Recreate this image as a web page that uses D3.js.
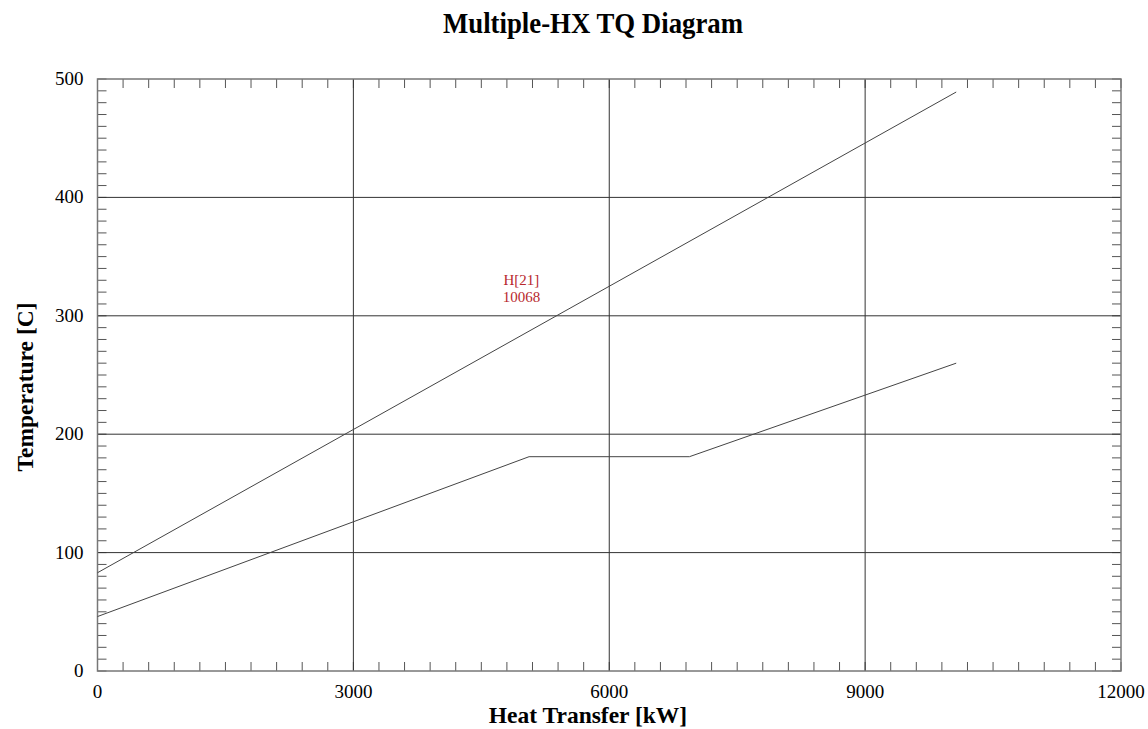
<!DOCTYPE html>
<html>
<head>
<meta charset="utf-8">
<script src="https://cdn.jsdelivr.net/npm/d3@7"></script>
<style>
  body { margin: 0; background: #fff; }
  svg { display: block; font-family: "Liberation Serif", "DejaVu Serif", serif; }
</style>
</head>
<body>
<div id="chart"></div>
<script>
// hot stream H[21] and cold stream, Q [kW] vs T [C]
var hotQ = [0, 10068];
var hotT = [83, 489];
var coldQ = [0, 5060, 6940, 10068];
var coldT = [46, 181, 181, 260];

var xTicks = [0, 3000, 6000, 9000, 12000];
var yTicks = [0, 100, 200, 300, 400, 500];
var streamLabel = ["H[21]", "10068"];

var width = 1148, height = 729;
var margin = { top: 79, right: 27, bottom: 58, left: 97.5 };

var svg = d3.select("#chart").append("svg")
  .attr("width", width)
  .attr("height", height);

var x = d3.scaleLinear().domain([0, 12000]).range([margin.left, width - margin.right]);
var y = d3.scaleLinear().domain([0, 500]).range([height - margin.bottom, margin.top]);

// minor ticks, all four sides, pointing in
var minorX = d3.range(0, 12001, 300);
var minorY = d3.range(0, 501, 10);
var tickLen = 9;

var g = svg.append("g");

g.selectAll(".mxb").data(minorX).enter().append("line")
  .attr("x1", d => x(d)).attr("x2", d => x(d))
  .attr("y1", y(0)).attr("y2", y(0) - tickLen)
  .attr("stroke", "#555").attr("stroke-width", 1);
g.selectAll(".mxt").data(minorX).enter().append("line")
  .attr("x1", d => x(d)).attr("x2", d => x(d))
  .attr("y1", y(500)).attr("y2", y(500) + tickLen)
  .attr("stroke", "#555").attr("stroke-width", 1);
g.selectAll(".myl").data(minorY).enter().append("line")
  .attr("x1", x(0)).attr("x2", x(0) + tickLen)
  .attr("y1", d => y(d)).attr("y2", d => y(d))
  .attr("stroke", "#555").attr("stroke-width", 1);
g.selectAll(".myr").data(minorY).enter().append("line")
  .attr("x1", x(12000)).attr("x2", x(12000) - tickLen)
  .attr("y1", d => y(d)).attr("y2", d => y(d))
  .attr("stroke", "#555").attr("stroke-width", 1);

// major grid
g.selectAll(".gx").data(xTicks.slice(1, -1)).enter().append("line")
  .attr("x1", d => x(d)).attr("x2", d => x(d))
  .attr("y1", y(0)).attr("y2", y(500))
  .attr("stroke", "#333").attr("stroke-width", 1);
g.selectAll(".gy").data(yTicks.slice(1, -1)).enter().append("line")
  .attr("x1", x(0)).attr("x2", x(12000))
  .attr("y1", d => y(d)).attr("y2", d => y(d))
  .attr("stroke", "#333").attr("stroke-width", 1);

// frame
svg.append("rect")
  .attr("x", x(0)).attr("y", y(500))
  .attr("width", x(12000) - x(0)).attr("height", y(0) - y(500))
  .attr("fill", "none").attr("stroke", "#777").attr("stroke-width", 1.5);

// tick labels
svg.selectAll(".xl").data(xTicks).enter().append("text")
  .attr("x", d => x(d)).attr("y", y(0) + 27)
  .attr("text-anchor", "middle")
  .attr("font-size", "19px")
  .text(d => d);
svg.selectAll(".yl").data(yTicks).enter().append("text")
  .attr("x", x(0) - 14).attr("y", d => y(d) + 6)
  .attr("text-anchor", "end")
  .attr("font-size", "19px")
  .text(d => d);

// streams
var line = d3.line().x(d => x(d[0])).y(d => y(d[1]));
svg.append("path")
  .datum(hotQ.map((q, i) => [q, hotT[i]]))
  .attr("d", line).attr("fill", "none")
  .attr("stroke", "#444").attr("stroke-width", 1);
svg.append("path")
  .datum(coldQ.map((q, i) => [q, coldT[i]]))
  .attr("d", line).attr("fill", "none")
  .attr("stroke", "#444").attr("stroke-width", 1);

// stream label
svg.append("text")
  .attr("x", x(4970)).attr("y", y(326))
  .attr("text-anchor", "middle")
  .attr("fill", "#b8282d")
  .attr("font-size", "15px")
  .selectAll("tspan").data(streamLabel).enter().append("tspan")
  .attr("x", x(4970)).attr("dy", (d, i) => i ? 17 : 0)
  .text(d => d);

// titles
svg.append("text")
  .attr("x", 593).attr("y", 33)
  .attr("text-anchor", "middle")
  .attr("font-size", "29px").attr("font-weight", "bold")
  .attr("textLength", 300).attr("lengthAdjust", "spacingAndGlyphs")
  .text("Multiple-HX TQ Diagram");
svg.append("text")
  .attr("x", 588).attr("y", 723)
  .attr("text-anchor", "middle")
  .attr("font-size", "23.5px").attr("font-weight", "bold")
  .text("Heat Transfer [kW]");
svg.append("text")
  .attr("transform", "translate(33,387) rotate(-90)")
  .attr("text-anchor", "middle")
  .attr("font-size", "23.5px").attr("font-weight", "bold")
  .text("Temperature [C]");
</script>
</body>
</html>
